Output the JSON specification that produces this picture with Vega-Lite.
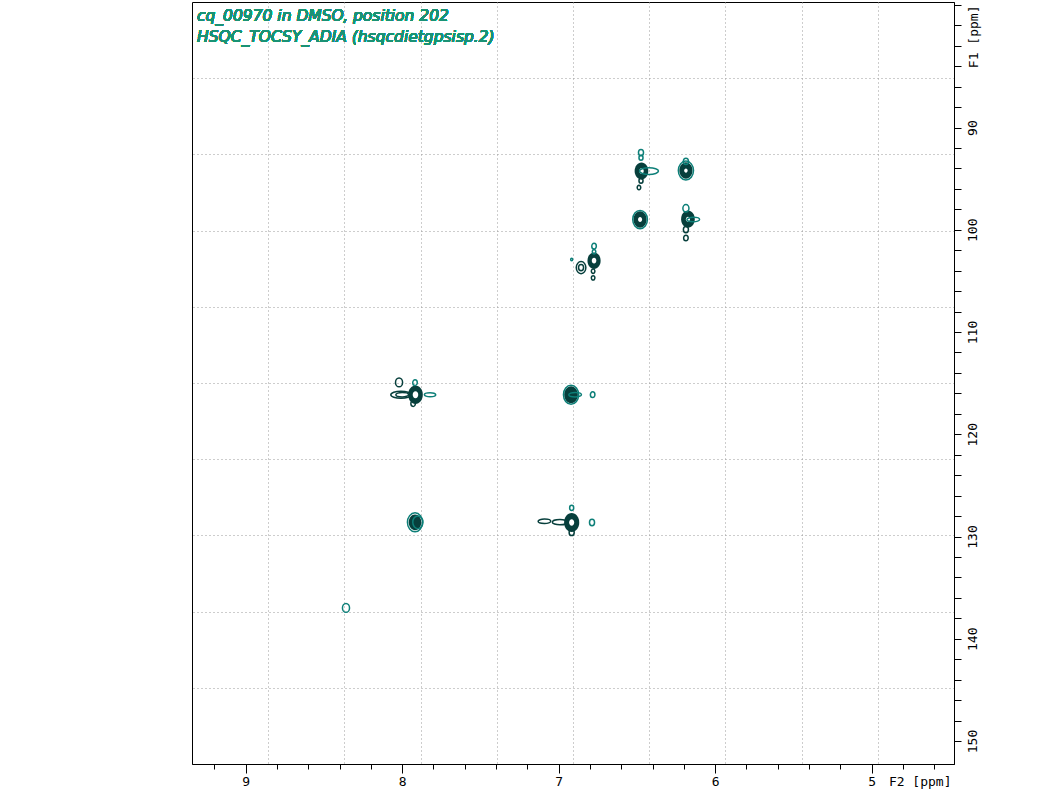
{
  "$schema": "https://vega.github.io/schema/vega-lite/v6.json",
  "width": 762,
  "height": 762,
  "autosize": {"type": "none"},
  "padding": {"left": 192, "top": 2, "right": 106, "bottom": 29},
  "background": "white",
  "config": {"view": {"stroke": "black", "strokeWidth": 1}},
  "data": {"values": [
    {"f2":6.471,"f1":94.26,"p":"core","s":"v","w":1.35,"c":"hi"},
    {"f2":6.471,"f1":94.26,"p":"hole","s":"v","w":0.45,"c":"hi"},
    {"f2":6.423,"f1":94.26,"p":"ring","s":"h","w":1.5,"c":"lo"},
    {"f2":6.474,"f1":92.45,"p":"ring","s":"v","w":0.5,"c":"lo"},
    {"f2":6.474,"f1":92.95,"p":"ring","s":"v","w":0.4,"c":"lo"},
    {"f2":6.474,"f1":95.2,"p":"ring","s":"v","w":0.4,"c":"hi"},
    {"f2":6.487,"f1":95.87,"p":"ring","s":"v","w":0.35,"c":"hi"},
    {"f2":6.187,"f1":94.21,"p":"core","s":"v","w":1.3,"c":"hi"},
    {"f2":6.187,"f1":94.21,"p":"hole","s":"v","w":0.35,"c":"hi"},
    {"f2":6.187,"f1":94.21,"p":"ring","s":"v","w":1.5,"c":"lo"},
    {"f2":6.187,"f1":93.3,"p":"ring","s":"v","w":0.5,"c":"lo"},
    {"f2":6.48,"f1":99.0,"p":"core","s":"v","w":1.3,"c":"hi"},
    {"f2":6.48,"f1":99.0,"p":"hole","s":"v","w":0.4,"c":"hi"},
    {"f2":6.48,"f1":99.0,"p":"ring","s":"v","w":1.45,"c":"lo"},
    {"f2":6.174,"f1":98.96,"p":"core","s":"v","w":1.35,"c":"hi"},
    {"f2":6.174,"f1":98.96,"p":"hole","s":"v","w":0.4,"c":"hi"},
    {"f2":6.14,"f1":99.0,"p":"ring","s":"h","w":1.0,"c":"lo"},
    {"f2":6.187,"f1":97.9,"p":"ring","s":"v","w":0.6,"c":"lo"},
    {"f2":6.187,"f1":99.98,"p":"ring","s":"v","w":0.5,"c":"hi"},
    {"f2":6.187,"f1":100.8,"p":"ring","s":"v","w":0.45,"c":"hi"},
    {"f2":6.774,"f1":103.02,"p":"core","s":"v","w":1.3,"c":"hi"},
    {"f2":6.774,"f1":103.02,"p":"hole","s":"v","w":0.45,"c":"hi"},
    {"f2":6.857,"f1":103.7,"p":"ring","s":"v","w":0.95,"c":"hi"},
    {"f2":6.857,"f1":103.7,"p":"ring","s":"v","w":0.5,"c":"hi"},
    {"f2":6.774,"f1":101.6,"p":"ring","s":"v","w":0.45,"c":"lo"},
    {"f2":6.774,"f1":102.15,"p":"ring","s":"v","w":0.35,"c":"lo"},
    {"f2":6.78,"f1":104.05,"p":"ring","s":"v","w":0.35,"c":"hi"},
    {"f2":6.78,"f1":104.7,"p":"ring","s":"v","w":0.35,"c":"hi"},
    {"f2":6.917,"f1":102.9,"p":"ring","s":"v","w":0.2,"c":"lo"},
    {"f2":7.915,"f1":116.13,"p":"core","s":"v","w":1.45,"c":"hi"},
    {"f2":7.915,"f1":116.13,"p":"hole","s":"v","w":0.55,"c":"hi"},
    {"f2":8.008,"f1":116.13,"p":"ring","s":"h","w":1.6,"c":"hi"},
    {"f2":8.0,"f1":116.13,"p":"ring","s":"h","w":1.0,"c":"hi"},
    {"f2":7.822,"f1":116.13,"p":"ring","s":"h","w":0.9,"c":"lo"},
    {"f2":8.02,"f1":114.93,"p":"ring","s":"v","w":0.7,"c":"hi"},
    {"f2":7.918,"f1":114.95,"p":"ring","s":"v","w":0.45,"c":"lo"},
    {"f2":7.93,"f1":117.0,"p":"ring","s":"v","w":0.45,"c":"hi"},
    {"f2":6.921,"f1":116.13,"p":"core","s":"v","w":1.35,"c":"hi"},
    {"f2":6.895,"f1":116.13,"p":"ring","s":"h","w":1.0,"c":"lo"},
    {"f2":6.921,"f1":116.13,"p":"ring","s":"v","w":1.5,"c":"lo"},
    {"f2":6.783,"f1":116.13,"p":"ring","s":"v","w":0.45,"c":"lo"},
    {"f2":7.918,"f1":128.61,"p":"core","s":"v","w":1.25,"c":"hi"},
    {"f2":7.918,"f1":128.61,"p":"ring","s":"v","w":1.5,"c":"lo"},
    {"f2":7.9,"f1":128.61,"p":"ring","s":"v","w":1.0,"c":"lo"},
    {"f2":6.917,"f1":128.63,"p":"core","s":"v","w":1.5,"c":"hi"},
    {"f2":6.917,"f1":128.63,"p":"hole","s":"v","w":0.5,"c":"hi"},
    {"f2":6.992,"f1":128.6,"p":"ring","s":"h","w":1.2,"c":"hi"},
    {"f2":7.091,"f1":128.51,"p":"ring","s":"h","w":1.0,"c":"hi"},
    {"f2":6.787,"f1":128.63,"p":"ring","s":"v","w":0.5,"c":"lo"},
    {"f2":6.917,"f1":127.2,"p":"ring","s":"v","w":0.4,"c":"lo"},
    {"f2":6.917,"f1":129.6,"p":"ring","s":"v","w":0.5,"c":"hi"},
    {"f2":8.359,"f1":136.98,"p":"ring","s":"v","w":0.7,"c":"lo"}
  ]},
  "resolve": {"axis": {"x": "independent", "y": "independent"}},
  "layer": [
    {
      "transform": [{"filter": "datum.p === 'core'"}],
      "mark": {"type": "point", "filled": true, "opacity": 1, "strokeWidth": 0},
      "encoding": {
        "x": {"field": "f2", "type": "quantitative",
          "scale": {"domain": [4.474, 9.343], "reverse": true, "nice": false, "zero": false},
          "axis": {"orient": "top", "values": [8.856, 8.369, 7.882, 7.395, 6.909, 6.422, 5.935, 5.448, 4.961],
            "grid": true, "gridDash": [1, 3], "gridColor": "#9a9a9a", "gridOpacity": 1, "gridWidth": 1,
            "ticks": false, "labels": false, "domain": false, "title": null}},
        "y": {"field": "f1", "type": "quantitative",
          "scale": {"domain": [77.72, 152.25], "reverse": true, "nice": false, "zero": false},
          "axis": {"orient": "left", "values": [85.17, 92.63, 100.08, 107.53, 114.99, 122.44, 129.89, 137.34, 144.8],
            "grid": true, "gridDash": [1, 3], "gridColor": "#9a9a9a", "gridOpacity": 1, "gridWidth": 1,
            "ticks": false, "labels": false, "domain": false, "title": null}},
        "size": {"field": "w", "type": "quantitative", "legend": null,
          "scale": {"type": "pow", "exponent": 2, "domain": [0, 2], "range": [0, 640], "zero": true}},
        "shape": {"field": "s", "type": "nominal", "legend": null,
          "scale": {"domain": ["v", "h"], "range": [
            "M0.8,0 C0.8,0.5523 0.4418,1 0,1 C-0.4418,1 -0.8,0.5523 -0.8,0 C-0.8,-0.5523 -0.4418,-1 0,-1 C0.4418,-1 0.8,-0.5523 0.8,0 Z",
            "M1,0 C1,0.1933 0.5523,0.35 0,0.35 C-0.5523,0.35 -1,0.1933 -1,0 C-1,-0.1933 -0.5523,-0.35 0,-0.35 C0.5523,-0.35 1,-0.1933 1,0 Z"]}},
        "color": {"field": "c", "type": "nominal", "legend": null,
          "scale": {"domain": ["hi", "lo"], "range": ["#073f3c", "#0d7f78"]}}
      }
    },
    {
      "transform": [{"filter": "datum.p === 'hole'"}],
      "mark": {"type": "point", "filled": true, "opacity": 1, "fill": "white", "strokeWidth": 0},
      "encoding": {
        "x": {"field": "f2", "type": "quantitative",
          "axis": {"orient": "bottom", "values": [9.2, 9.0, 8.8, 8.6, 8.4, 8.2, 8.0, 7.8, 7.6, 7.4, 7.2, 7.0, 6.8, 6.6, 6.4, 6.2, 6.0, 5.8, 5.6, 5.4, 5.2, 5.0, 4.8, 4.6],
            "grid": false, "ticks": true, "tickSize": 5, "tickColor": "black", "tickWidth": 1, "labels": false, "domain": false, "title": null}},
        "y": {"field": "f1", "type": "quantitative", "axis": null},
        "size": {"field": "w", "type": "quantitative", "legend": null},
        "shape": {"field": "s", "type": "nominal", "legend": null}
      }
    },
    {
      "transform": [{"filter": "datum.p === 'ring'"}],
      "mark": {"type": "point", "filled": false, "opacity": 1, "strokeWidth": 1.5},
      "encoding": {
        "x": {"field": "f2", "type": "quantitative",
          "axis": {"orient": "bottom", "values": [9, 8, 7, 6, 5], "format": "d",
            "grid": false, "ticks": true, "tickSize": 9, "tickColor": "black", "tickWidth": 1,
            "domain": true, "domainColor": "black", "domainWidth": 1,
            "labelFont": "DejaVu Sans Mono", "labelFontSize": 13, "labelColor": "black", "labelPadding": 2,
            "title": "F2 [ppm]", "titleFont": "DejaVu Sans Mono", "titleFontSize": 13, "titleFontWeight": "normal", "titleColor": "black",
            "titleAlign": "right", "titleBaseline": "top", "titleX": 759, "titleY": 11}},
        "y": {"field": "f1", "type": "quantitative",
          "axis": {"orient": "right", "values": [78, 80, 82, 84, 86, 88, 90, 92, 94, 96, 98, 100, 102, 104, 106, 108, 110, 112, 114, 116, 118, 120, 122, 124, 126, 128, 130, 132, 134, 136, 138, 140, 142, 144, 146, 148, 150],
            "labelExpr": "(datum.value % 10 === 0 && datum.value >= 90) ? datum.label : ''",
            "grid": false, "ticks": true, "tickSize": 7, "tickColor": "black", "tickWidth": 1,
            "domain": true, "domainColor": "black", "domainWidth": 1,
            "labelFont": "DejaVu Sans Mono", "labelFontSize": 13, "labelColor": "black", "labelPadding": 5,
            "labelAngle": 270, "labelAlign": "center", "labelBaseline": "top",
            "title": "F1 [ppm]", "titleFont": "DejaVu Sans Mono", "titleFontSize": 13, "titleFontWeight": "normal", "titleColor": "black",
            "titleAngle": 270, "titleAlign": "right", "titleBaseline": "top", "titleX": 13, "titleY": 3}},
        "size": {"field": "w", "type": "quantitative", "legend": null},
        "shape": {"field": "s", "type": "nominal", "legend": null},
        "color": {"field": "c", "type": "nominal", "legend": null}
      }
    },
    {
      "mark": {"type": "text", "text": ["cq_00970 in DMSO, position 202", "HSQC_TOCSY_ADIA (hsqcdietgpsisp.2)"],
        "align": "left", "baseline": "top", "font": "DejaVu Sans", "fontSize": 15.5, "fontStyle": "italic",
        "color": "#1a9275", "lineHeight": 21},
      "encoding": {
        "x": {"datum": 9.311, "type": "quantitative", "axis": null},
        "y": {"datum": 78.45, "type": "quantitative", "axis": null}
      }
    }
  ]
}
